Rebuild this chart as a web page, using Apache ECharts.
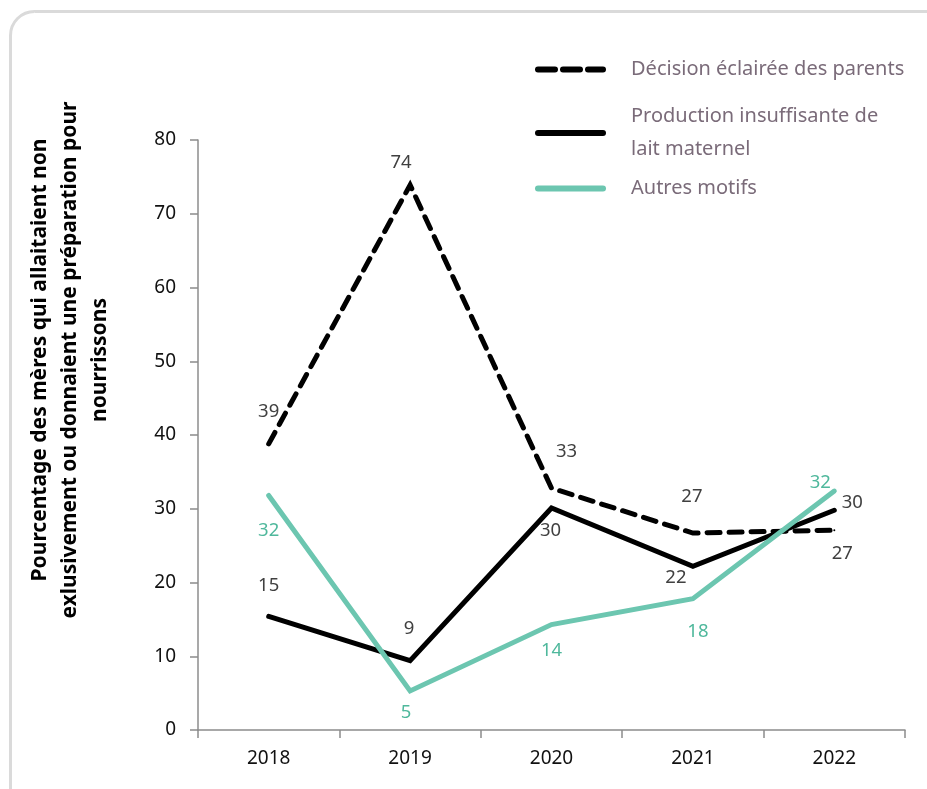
<!DOCTYPE html>
<html>
<head>
<meta charset="utf-8">
<script src="https://cdn.jsdelivr.net/npm/echarts@6/dist/echarts.min.js"></script>
<style>
    html, body { margin: 0; padding: 0; background: #fff; }
    #chart { width: 927px; height: 789px; }
</style>
</head>
<body>
<div id="chart"></div>
<script>
// Données
var years = ['2018', '2019', '2020', '2021', '2022'];
var decisionParents = [38.8, 73.9, 32.8, 26.7, 27.1];
var productionInsuffisante = [15.4, 9.4, 30.1, 22.2, 29.8];
var autresMotifs = [31.8, 5.3, 14.3, 17.8, 32.4];
var seriesNames = ['Décision éclairée des parents', 'Production insuffisante de\nlait maternel', 'Autres motifs'];

// décalage des étiquettes par point (style)
var offsetsDecision = [[0, -32], [-9, -22], [15, -36], [-1, -36], [8, 24]];
var offsetsProduction = [[0, -31], [-1, -32], [-1, 23], [-17, 11], [18, -7]];
var offsetsAutres = [[0, 35], [-4, 22], [0, 26], [5, 33], [-14, -8]];

var FONT = 'Noto Sans';
var TEAL = '#6cc6b0';

function buildData(values, offsets, color) {
    return values.map(function (v, i) {
        return {
            value: v,
            label: { offset: offsets[i], color: color }
        };
    });
}

function makeSeries(name, values, offsets, lineColor, labelColor, dashed) {
    return {
        name: name,
        type: 'line',
        symbol: 'circle',
        symbolSize: 2,
        showSymbol: true,
        data: buildData(values, offsets, labelColor),
        lineStyle: {
            color: lineColor,
            width: 5,
            type: dashed ? [13, 9] : 'solid',
            cap: 'round',
            join: 'miter'
        },
        itemStyle: { color: lineColor },
        label: {
            show: true,
            position: 'inside',
            fontFamily: FONT,
            fontSize: 18.5,
            formatter: function (p) { return Math.round(p.value); }
        },
        emphasis: { disabled: true },
        animation: false
    };
}

function makeLegend(name, top, dashed) {
    return {
        data: [name],
        left: 535,
        top: top,
        padding: 0,
        itemWidth: 65,
        itemHeight: 16,
        itemGap: 0,
        selectedMode: false,
        itemStyle: { opacity: 0 },
        lineStyle: { width: 6, type: dashed ? [17, 8] : 'solid' },
        textStyle: {
            fontFamily: FONT,
            fontSize: 20,
            color: '#7a6b79',
            lineHeight: 33,
            padding: [0, 0, 0, 23]
        }
    };
}

var chart = echarts.init(document.getElementById('chart'));

var option = {
    backgroundColor: '#fff',
    animation: false,
    grid: { left: 198, right: 22, top: 140, bottom: 59, containLabel: false },
    legend: [
        makeLegend(seriesNames[0], 53, true),
        makeLegend(seriesNames[1], 100, false),
        makeLegend(seriesNames[2], 172, false)
    ],
    xAxis: {
        type: 'category',
        data: years,
        boundaryGap: true,
        axisLine: { show: true, lineStyle: { color: '#8c8c8c', width: 1.5 } },
        axisTick: { show: true, length: 8, lineStyle: { color: '#8c8c8c', width: 1.5 } },
        axisLabel: { fontFamily: FONT, fontSize: 19, color: '#111', margin: 19 },
        splitLine: { show: false }
    },
    yAxis: {
        type: 'value',
        min: 0,
        max: 80,
        interval: 10,
        axisLine: { show: true, lineStyle: { color: '#8c8c8c', width: 1.5 } },
        axisTick: { show: true, length: 8, lineStyle: { color: '#8c8c8c', width: 1.5 } },
        axisLabel: { fontFamily: FONT, fontSize: 19, color: '#111', margin: 22 },
        splitLine: { show: false }
    },
    graphic: [
        {
            type: 'rect',
            left: 8,
            top: 9,
            shape: { width: 945, height: 800, r: 24 },
            style: { fill: 'none', stroke: '#dadada', lineWidth: 3 },
            silent: true
        },
        {
            type: 'text',
            x: 70,
            y: 360,
            rotation: Math.PI / 2,
            style: {
                text: 'Pourcentage des mères qui allaitaient non\nexlusivement ou donnaient une préparation pour\nnourrissons',
                fontFamily: FONT,
                fontWeight: 'bold',
                fontSize: 21,
                lineHeight: 30,
                fill: '#000',
                align: 'center',
                verticalAlign: 'middle'
            },
            silent: true
        }
    ],
    series: [
        makeSeries(seriesNames[0], decisionParents, offsetsDecision, '#000', '#404040', true),
        makeSeries(seriesNames[1], productionInsuffisante, offsetsProduction, '#000', '#404040', false),
        makeSeries(seriesNames[2], autresMotifs, offsetsAutres, TEAL, '#4fb89c', false)
    ]
};

chart.setOption(option);
</script>
</body>
</html>
